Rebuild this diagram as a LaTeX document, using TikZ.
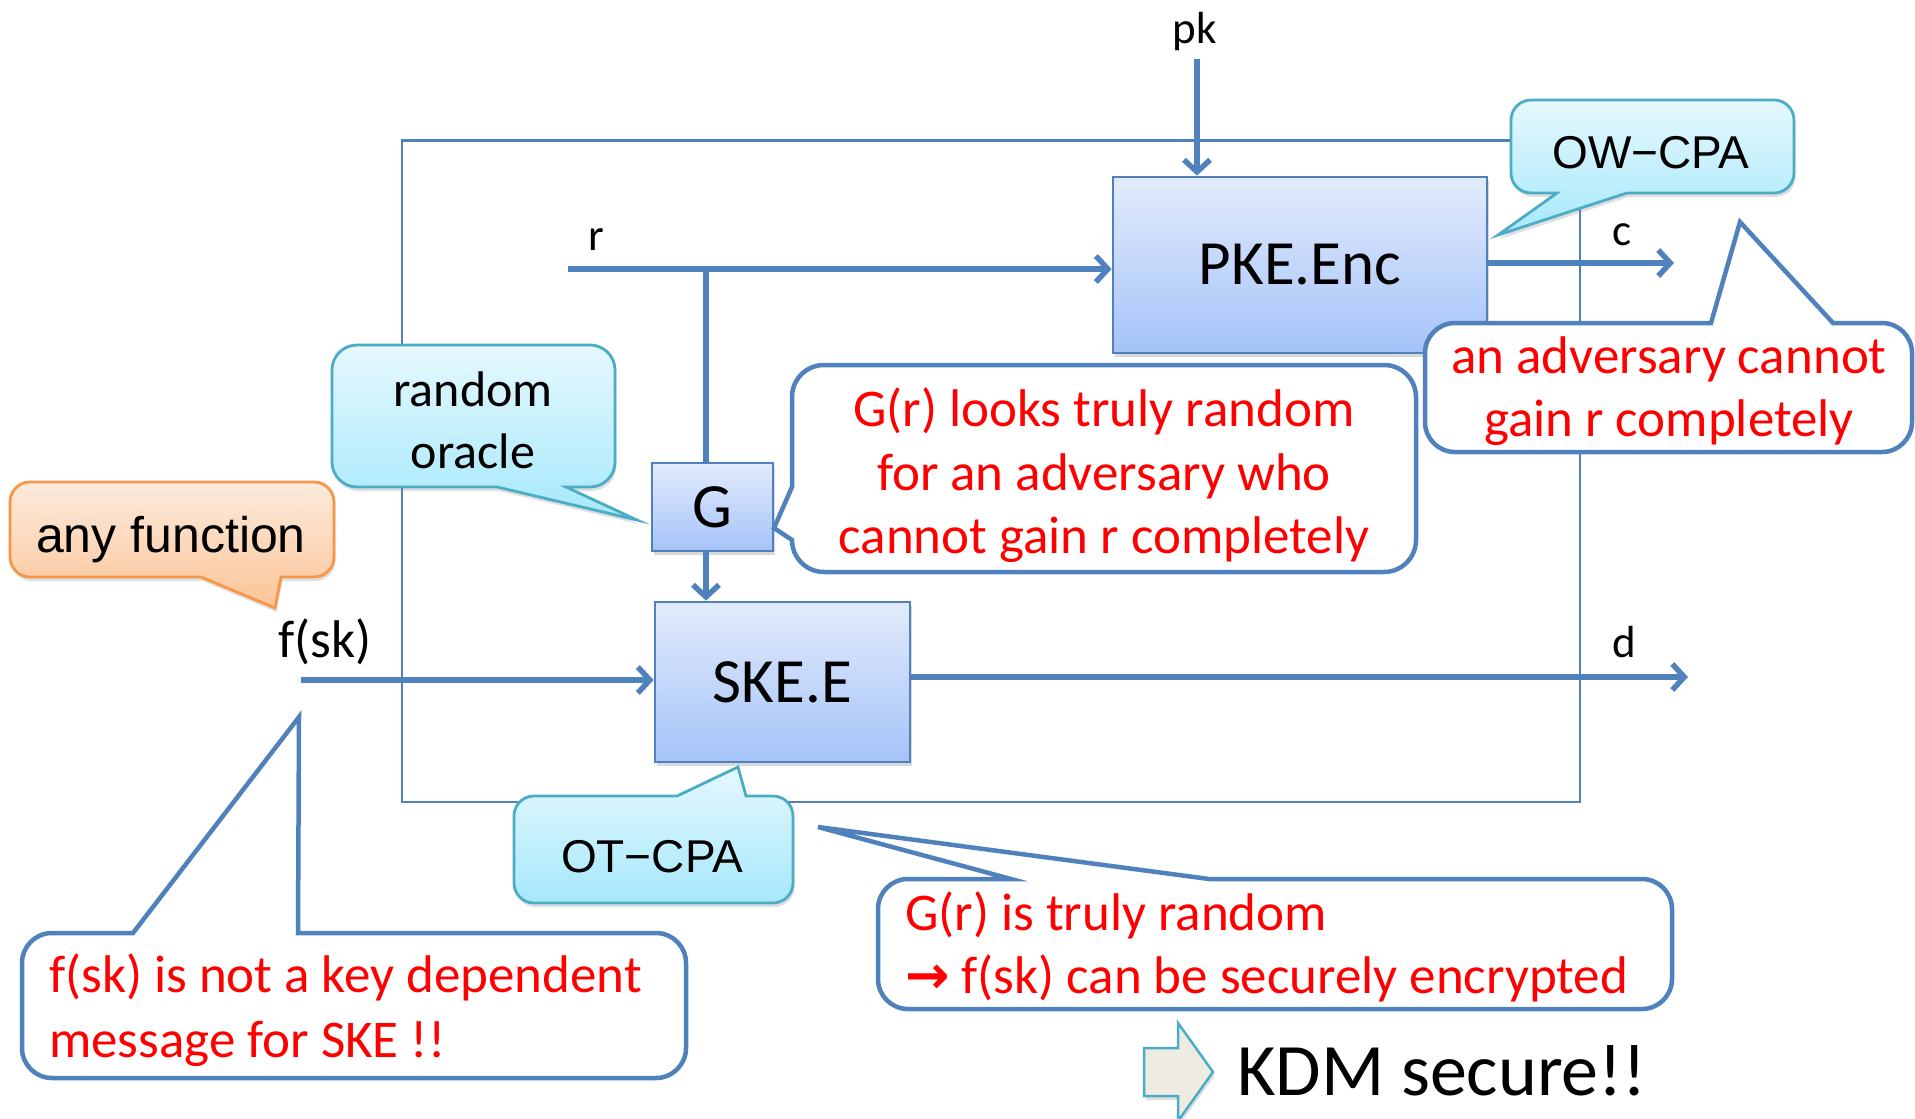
\documentclass[tikz,border=0pt]{standalone}
\usepackage{fontspec}
\setmainfont{Carlito}
\newfontfamily\arialf{Liberation Sans}
\newfontfamily\djv{DejaVu Sans}
\usetikzlibrary{arrows.meta,shadows}
\definecolor{lblue}{HTML}{4F81BD}
\definecolor{boxtop}{HTML}{E2EBFC}
\definecolor{boxbot}{HTML}{A5C3F8}
\definecolor{cyb}{HTML}{4BACC6}
\definecolor{cytop}{HTML}{E5F8FD}
\definecolor{cybot}{HTML}{A6E8FB}
\definecolor{orb}{HTML}{F79646}
\definecolor{ortop}{HTML}{FDEBDD}
\definecolor{orbot}{HTML}{FBC497}
\definecolor{kdmfill}{HTML}{EEECE1}
\definecolor{redtxt}{HTML}{FF0000}
\tikzset{
  ln/.style={draw=lblue, line width=5.5pt},
  arr/.style={draw=lblue, line width=5.5pt, -{Straight Barb[length=12pt,width=26pt]}},
  frame/.style={draw=lblue, line width=2.8pt, inner sep=0pt},
  blockbox/.style={draw=lblue, line width=2.8pt, top color=boxtop, bottom color=boxbot, inner sep=0pt,
     font=\fontsize{63}{76}\selectfont,
     drop shadow={shadow xshift=1.5pt, shadow yshift=-4pt, opacity=.3}},
  lbl/.style={font=\fontsize{45}{54}\selectfont, inner sep=0pt},
  cybub/.style={draw=cyb, line width=2.8pt, top color=cytop, bottom color=cybot,
     drop shadow={shadow xshift=1.5pt, shadow yshift=-4pt, opacity=.25}},
  orbub/.style={draw=orb, line width=2.8pt, top color=ortop, bottom color=orbot,
     drop shadow={shadow xshift=1.5pt, shadow yshift=-4pt, opacity=.25}},
  whbub/.style={draw=lblue, line width=4.5pt, fill=white},
  cytxt/.style={font=\fontsize{50}{62}\selectfont, inner sep=0pt},
  gothtxt/.style={font=\arialf\fontsize{46}{56}\selectfont, inner sep=0pt},
  redt/.style={font=\fontsize{53}{64}\selectfont, text=redtxt, inner sep=0pt},
}
\begin{document}
\begin{tikzpicture}[x=1pt,y=-1pt]
\useasboundingbox (0,0) rectangle (1915,1119);

% outer frame
\node[frame, minimum width=1178pt, minimum height=661.5pt] (outer) at (991,471.25) {};

% coordinates
\coordinate (pkin) at (1197,59);
\coordinate (rin) at (568,269);
\coordinate (rsplit) at (706,269);
\coordinate (cout) at (1674,263);
\coordinate (dout) at (1688,677);
\coordinate (fin) at (301,680);

% boxes
\node[blockbox, minimum width=374pt, minimum height=176pt] (pke) at (1300,265) {PKE.Enc};
\node[blockbox, minimum width=255pt, minimum height=160pt] (ske) at (782.5,682) {SKE.E};
\node[blockbox, minimum width=121pt, minimum height=88pt] (g) at (712.5,507) {G};

% connectors
\draw[arr] (pkin) -- (pkin |- pke.north);
\draw[arr] (rin) -- (rin -| pke.west);
\draw[ln] (rsplit) -- (rsplit |- g.north);
\draw[arr] (rsplit |- g.south) -- (rsplit |- ske.north);
\draw[arr] (pke.east |- cout) -- (cout);
\draw[arr] (ske.east |- dout) -- (dout);
\draw[arr] (fin) -- (fin -| ske.west);

% labels
\node[lbl, anchor=base] (pkl) at (1195,43) {pk};
\node[lbl, anchor=base] (rl) at (596,250) {r};
\node[lbl, anchor=base] (cl) at (1622,245) {c};
\node[lbl, anchor=base] (dl) at (1624,657) {d};
\node[lbl, anchor=base, font=\fontsize{53}{63}\selectfont] (fl) at (325,657) {f(sk)};

% OW-CPA bubble
\path[cybub] (1531,100) -- (1774,100) arc[start angle=-90,end angle=0,radius=20]
  -- (1794,173) arc[start angle=0,end angle=90,radius=20]
  -- (1627,193) -- (1498,235) -- (1557,193)
  -- (1531,193) arc[start angle=90,end angle=180,radius=20]
  -- (1511,120) arc[start angle=180,end angle=270,radius=20] -- cycle;
\node[gothtxt, anchor=base] (owcpa) at (1651,168) {OW−CPA};

% adversary cannot bubble
\path[whbub] (1455,323) -- (1711,323) -- (1740,222) -- (1833,323)
  -- (1882,323) arc[start angle=-90,end angle=0,radius=30]
  -- (1912,422) arc[start angle=0,end angle=90,radius=30]
  -- (1455,452) arc[start angle=90,end angle=180,radius=30]
  -- (1425,353) arc[start angle=180,end angle=270,radius=30] -- cycle;
\node[redt, anchor=base] (adv1) at (1669,373) {an adversary cannot};
\node[redt, anchor=base] (adv2) at (1669,436) {gain r completely};

% random oracle bubble
\path[cybub] (357,345) -- (590,345) arc[start angle=-90,end angle=0,radius=25]
  -- (615,462) arc[start angle=0,end angle=90,radius=25]
  -- (566,487) -- (637,520) -- (497,487)
  -- (357,487) arc[start angle=90,end angle=180,radius=25]
  -- (332,370) arc[start angle=180,end angle=270,radius=25] -- cycle;
\node[cytxt, anchor=base] (ro1) at (473,406) {random};
\node[cytxt, anchor=base] (ro2) at (473,468) {oracle};

% any function bubble
\path[orbub] (30,482) -- (314,482) arc[start angle=-90,end angle=0,radius=20]
  -- (334,557) arc[start angle=0,end angle=90,radius=20]
  -- (281,577) -- (275,608) -- (201,577)
  -- (30,577) arc[start angle=90,end angle=180,radius=20]
  -- (10,502) arc[start angle=180,end angle=270,radius=20] -- cycle;
\node[anchor=base, inner sep=0pt, font=\arialf\fontsize{50}{60}\selectfont] (anyf) at (171,552) {any function};

% G(r) looks truly random bubble
\path[whbub] (824,365) -- (1384,365) arc[start angle=-90,end angle=0,radius=32]
  -- (1416,540) arc[start angle=0,end angle=90,radius=32]
  -- (824,572) arc[start angle=90,end angle=180,radius=32]
  -- (774,528) -- (792,487)
  -- (792,397) arc[start angle=180,end angle=270,radius=32] -- cycle;
\node[redt, anchor=base] (gl1) at (1104,426) {G(r) looks truly random};
\node[redt, anchor=base] (gl2) at (1104,490) {for an adversary who};
\node[redt, anchor=base] (gl3) at (1104,553) {cannot gain r completely};

% OT-CPA bubble
\path[cybub] (534,796) -- (677,796) -- (738,767) -- (746,796)
  -- (773,796) arc[start angle=-90,end angle=0,radius=20]
  -- (793,883) arc[start angle=0,end angle=90,radius=20]
  -- (534,903) arc[start angle=90,end angle=180,radius=20]
  -- (514,816) arc[start angle=180,end angle=270,radius=20] -- cycle;
\node[gothtxt, anchor=base] (otcpa) at (652,872) {OT−CPA};

% f(sk) bubble
\path[whbub] (52,933) -- (133,933) -- (299,717) -- (298,933)
  -- (656,933) arc[start angle=-90,end angle=0,radius=30]
  -- (686,1048) arc[start angle=0,end angle=90,radius=30]
  -- (52,1078) arc[start angle=90,end angle=180,radius=30]
  -- (22,963) arc[start angle=180,end angle=270,radius=30] -- cycle;
\node[redt, anchor=base west] (fs1) at (49,992) {f(sk) is not a key dependent};
\node[redt, anchor=base west] (fs2) at (49,1057) {message for SKE !!};

% G(r) is truly random bubble
\path[whbub] (908,879) -- (1011,879) -- (818,827) -- (1209,879)
  -- (1642,879) arc[start angle=-90,end angle=0,radius=30]
  -- (1672,979) arc[start angle=0,end angle=90,radius=30]
  -- (908,1009) arc[start angle=90,end angle=180,radius=30]
  -- (878,909) arc[start angle=180,end angle=270,radius=30] -- cycle;
\node[redt, anchor=base west] (tr1) at (905,930) {G(r) is truly random};
\node[redt, anchor=base west] (tr2) at (905,993) {{\djv\bfseries →}~f(sk) can be securely encrypted};

% KDM arrow
\path[draw=cyb, line width=2.5pt, fill=kdmfill,
      drop shadow={shadow xshift=1.5pt, shadow yshift=-4pt, opacity=.25}]
  (1144,1048) -- (1178,1048) -- (1178,1023) -- (1213,1072) -- (1178,1121)
  -- (1178,1096) -- (1144,1096) -- cycle;
\node[anchor=base west, inner sep=0pt, font=\fontsize{74}{88}\selectfont] (kdm) at (1237,1095) {KDM secure!!};
\end{tikzpicture}
\end{document}
